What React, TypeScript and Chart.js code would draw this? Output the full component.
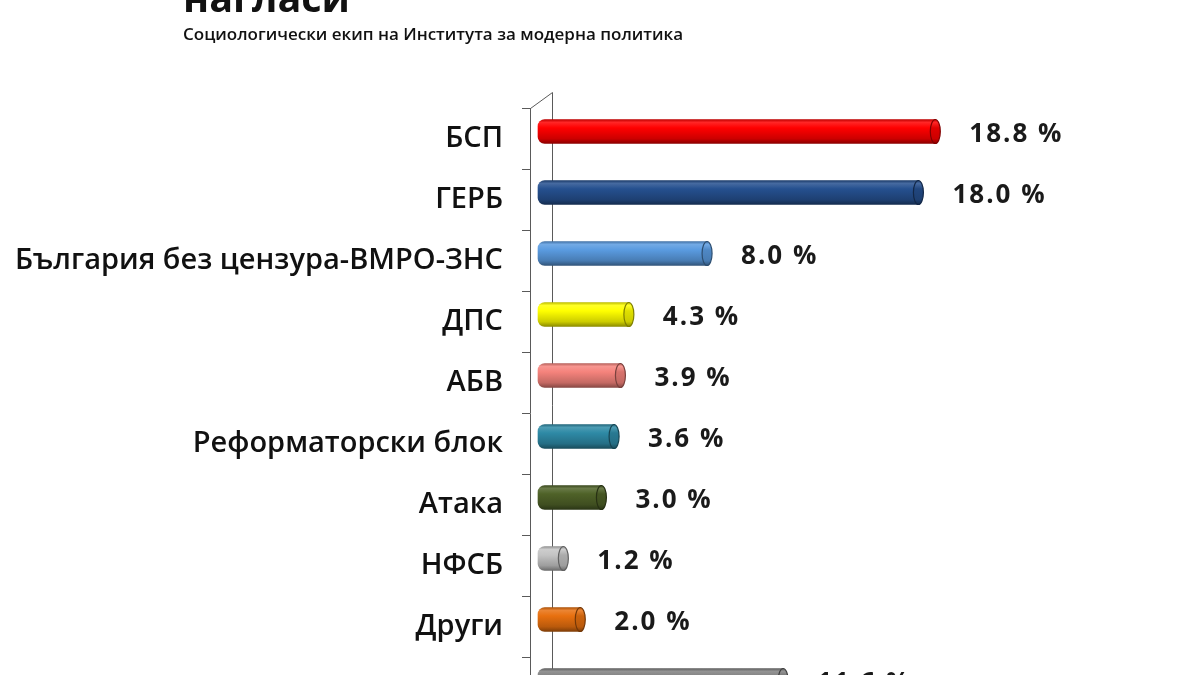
import { useEffect, useRef } from 'react';
import { Chart, registerables } from 'chart.js';

Chart.register(...registerables);

const categories = [
  'БСП',
  'ГЕРБ',
  'България без цензура-ВМРО-ЗНС',
  'ДПС',
  'АБВ',
  'Реформаторски блок',
  'Атака',
  'НФСБ',
  'Други',
  'Не гласуват',
];
const values = [18.8, 18.0, 8.0, 4.3, 3.9, 3.6, 3.0, 1.2, 2.0, 11.6];
const valueLabels = ['18.8 %', '18.0 %', '8.0 %', '4.3 %', '3.9 %', '3.6 %', '3.0 %', '1.2 %', '2.0 %', '11.6 %'];
const barColors = [
  '#ff0000',
  '#25508f',
  '#5a9be0',
  '#ffff00',
  '#f5837c',
  '#2e8aa6',
  '#4f6228',
  '#c4c4c4',
  '#e8700f',
  '#808080',
];
const titleText = 'нагласи';
const subtitleText = 'Социологически екип на Института за модерна политика';

const BAR_T = 24;
const DEPTH_X = 8;
const DEPTH_Y = -7;
const WALL_X = 22;
const WALL_Y = -16;
const AXIS_COLOR = '#5a5a5a';

function mix(hex: string, amt: number): string {
  const n = parseInt(hex.slice(1), 16);
  let r = (n >> 16) & 255;
  let g = (n >> 8) & 255;
  let b = n & 255;
  const t = amt < 0 ? 0 : 255;
  const p = Math.abs(amt);
  r = Math.round(r + (t - r) * p);
  g = Math.round(g + (t - g) * p);
  b = Math.round(b + (t - b) * p);
  return `rgb(${r},${g},${b})`;
}

function barGradient(ctx: CanvasRenderingContext2D, cy: number, color: string, baseHex: string): any {
  if (!Number.isFinite(cy)) return color;
  const g = ctx.createLinearGradient(0, cy - BAR_T / 2, 0, cy + BAR_T / 2);
  g.addColorStop(0, mix(baseHex, -0.25));
  g.addColorStop(0.12, mix(baseHex, 0.15));
  g.addColorStop(0.35, color);
  g.addColorStop(0.8, mix(baseHex, -0.2));
  g.addColorStop(1, mix(baseHex, -0.45));
  return g;
}

const depthPlugin = {
  id: 'depth3d',
  beforeDatasetsDraw(chart: any) {
    const { ctx, chartArea } = chart;
    ctx.save();
    ctx.strokeStyle = AXIS_COLOR;
    ctx.lineWidth = 1;
    ctx.beginPath();
    ctx.moveTo(chartArea.left + 0.5, chartArea.top + 0.5);
    ctx.lineTo(chartArea.left + WALL_X + 0.5, chartArea.top + WALL_Y + 0.5);
    ctx.lineTo(chartArea.left + WALL_X + 0.5, chartArea.bottom);
    ctx.stroke();
    ctx.restore();
    ctx.save();
    ctx.translate(DEPTH_X, DEPTH_Y);
  },
  afterDatasetsDraw(chart: any) {
    const { ctx } = chart;
    const meta = chart.getDatasetMeta(0);
    meta.data.forEach((el: any, i: number) => {
      const p = el.getProps(['x', 'y', 'base', 'height'], true);
      if (!Number.isFinite(p.x) || !Number.isFinite(p.y)) return;
      const color = barColors[i];
      const ry = (p.height || BAR_T) / 2;
      ctx.save();
      ctx.beginPath();
      ctx.ellipse(p.x, p.y, 5, ry, 0, 0, Math.PI * 2);
      ctx.fillStyle = barGradient(ctx, p.y, mix(color, -0.12), color);
      ctx.fill();
      ctx.lineWidth = 1.2;
      ctx.strokeStyle = mix(color, -0.5);
      ctx.stroke();
      ctx.restore();

      ctx.save();
      ctx.font = 'bold 26px "Open Sans"';
      (ctx as any).letterSpacing = '2px';
      ctx.fillStyle = '#1a1a1a';
      ctx.textAlign = 'left';
      ctx.textBaseline = 'middle';
      ctx.fillText(valueLabels[i], p.x + 34, p.y + 3);
      ctx.restore();
    });
    ctx.restore();
  },
  afterDraw(chart: any) {
    const { ctx } = chart;
    ctx.save();
    ctx.fillStyle = '#111';
    ctx.textAlign = 'left';
    ctx.textBaseline = 'alphabetic';
    ctx.font = 'bold 40px "Open Sans"';
    ctx.fillText(titleText, 183, 12, 167);
    ctx.font = '600 17px "Open Sans"';
    ctx.fillText(subtitleText, 183, 40, 500);
    ctx.restore();
  },
};

export default function App() {
  const ref = useRef<HTMLCanvasElement | null>(null);

  useEffect(() => {
    document.body.style.margin = '0';
    const canvas = ref.current;
    if (!canvas) return;
    const chart = new Chart(canvas, {
      type: 'bar',
      data: {
        labels: categories,
        datasets: [
          {
            data: values,
            backgroundColor: (c: any) => {
              const color = barColors[c.dataIndex] || '#888888';
              const ys = c.chart.scales && c.chart.scales.y;
              if (!ys || c.type !== 'data') return color;
              const cy = ys.getPixelForValue(c.dataIndex);
              return barGradient(c.chart.ctx, cy, color, color);
            },
            borderWidth: 0,
            borderSkipped: false,
            borderRadius: { topLeft: 7, bottomLeft: 7, topRight: 0, bottomRight: 0 },
            barThickness: BAR_T,
            clip: false as any,
          },
        ],
      },
      options: {
        indexAxis: 'y',
        animation: false,
        responsive: false,
        devicePixelRatio: 1,
        layout: { padding: { top: 108, right: 36, bottom: 8, left: 0 } },
        plugins: {
          legend: { display: false },
          tooltip: { enabled: false },
          title: { display: false },
        },
        scales: {
          x: { display: false, min: 0, max: 30 },
          y: {
            type: 'category',
            ticks: {
              color: '#111',
              font: { family: '"Open Sans"', size: 29, weight: '600' as any },
              padding: 19,
            },
            grid: {
              drawOnChartArea: false,
              drawTicks: true,
              tickLength: 8,
              color: AXIS_COLOR,
              offset: true,
            },
            border: { display: true, color: AXIS_COLOR, width: 1 },
            afterFit: (s: any) => {
              s.width = 530;
              s.paddingTop = 0;
              s.paddingBottom = 0;
            },
          },
        },
      },
      plugins: [depthPlugin],
    });
    return () => chart.destroy();
  }, []);

  return (
    <div style={{ width: 1200, height: 675, overflow: 'hidden', background: '#fff' }}>
      <canvas ref={ref} width={1200} height={726} style={{ display: 'block' }} />
    </div>
  );
}
